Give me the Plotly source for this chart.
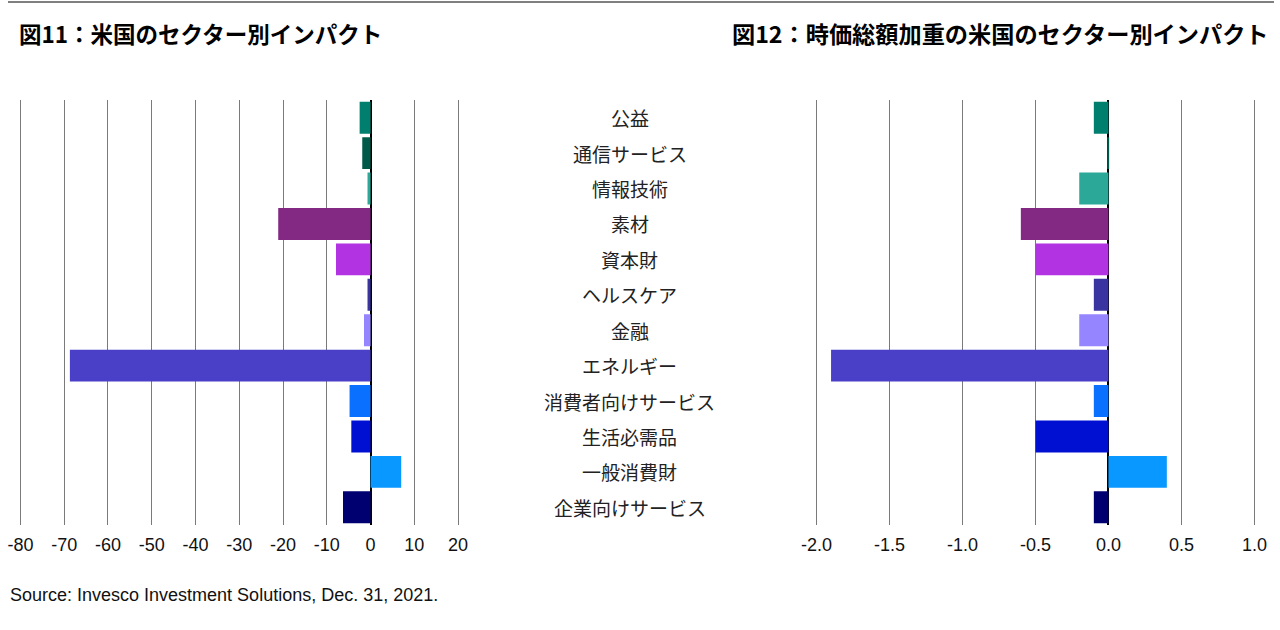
import plotly.graph_objects as go

categories = ["公益", "通信サービス", "情報技術", "素材", "資本財", "ヘルスケア",
              "金融", "エネルギー", "消費者向けサービス", "生活必需品", "一般消費財", "企業向けサービス"]
impact_us = [-2.5, -1.9, -0.7, -21.1, -7.9, -0.7, -1.5, -68.7, -4.8, -4.4, 7.0, -6.3]
impact_capw = [-0.1, -0.005, -0.2, -0.6, -0.5, -0.1, -0.2, -1.9, -0.1, -0.5, 0.4, -0.1]
colors = ["#007f6e", "#005a4a", "#2ba898", "#832883", "#b233e2", "#3a34a0",
          "#9585ff", "#4a40c8", "#0a70ff", "#0010d2", "#0898ff", "#000070"]
left_ticks = [-80, -70, -60, -50, -40, -30, -20, -10, 0, 10, 20]
left_ticktext = ["-80", "-70", "-60", "-50", "-40", "-30", "-20", "-10", "0", "10", "20"]
right_ticks = [-2.0, -1.5, -1.0, -0.5, 0.0, 0.5, 1.0]
right_ticktext = ["-2.0", "-1.5", "-1.0", "-0.5", "0.0", "0.5", "1.0"]

FW, FH = 1280, 630
# measured mapping of figure x to the captured picture: pic_x = 9 + 0.9875 * fig_x
SX, OXP = 0.9875, 9.0


def fx(x):
    return max(0.0, (x - OXP) / SX) / FW


def fy(y):
    return 1 - y / FH


L_px_per = (458 - 21) / 100.0
R_px_per = (1253.3 - 816) / 3.0
l_rng = [-81, 21]
r_rng = [-2.05, 1.05]
l_dom = [fx(371 + l_rng[0] * L_px_per), fx(371 + l_rng[1] * L_px_per)]
r_dom = [fx(1107.7 + r_rng[0] * R_px_per), fx(1107.7 + r_rng[1] * R_px_per)]
y_dom = [fy(525), fy(100)]

fig = go.Figure()
fig.add_trace(go.Bar(x=impact_us, y=categories, orientation="h",
                     marker=dict(color=colors, line=dict(width=0)),
                     xaxis="x", yaxis="y", showlegend=False))
fig.add_trace(go.Bar(x=impact_capw, y=categories, orientation="h",
                     marker=dict(color=colors, line=dict(width=0)),
                     xaxis="x2", yaxis="y2", showlegend=False))

axis_common = dict(showgrid=True, gridcolor="#7a7a7a", gridwidth=1,
                   zeroline=True, zerolinecolor="#000000", zerolinewidth=2,
                   showline=False, ticks="", ticklabelstandoff=7,
                   tickfont=dict(family="Liberation Sans, Arial", size=18, color="#111111"))

fig.update_layout(
    width=FW, height=FH,
    margin=dict(l=0, r=0, t=0, b=0),
    paper_bgcolor="white", plot_bgcolor="white",
    bargap=0.1,
    xaxis=dict(domain=l_dom, range=l_rng, tickmode="array", tickvals=left_ticks,
               ticktext=left_ticktext, anchor="y", **axis_common),
    xaxis2=dict(domain=r_dom, range=r_rng, tickmode="array", tickvals=right_ticks,
                ticktext=right_ticktext, anchor="y2", **axis_common),
    yaxis=dict(domain=y_dom, autorange="reversed", showticklabels=False,
               showgrid=False, zeroline=False, anchor="x"),
    yaxis2=dict(domain=y_dom, autorange="reversed", showticklabels=False,
                showgrid=False, zeroline=False, anchor="x2"),
)

annotations = []
for c in categories:
    annotations.append(dict(x=fx(630), y=c, xref="paper", yref="y", text=c,
                            showarrow=False, xanchor="center", yanchor="middle",
                            font=dict(family="Noto Sans CJK JP", size=19, color="#222222")))
annotations.append(dict(x=fx(18), y=fy(33), xref="paper", yref="paper",
                        text="<b>図11：米国のセクター別インパクト</b>", showarrow=False,
                        xanchor="left", yanchor="middle",
                        font=dict(family="Noto Sans CJK JP", size=22.5, color="#000000")))
annotations.append(dict(x=fx(1270), y=fy(33), xref="paper", yref="paper",
                        text="<b>図12：時価総額加重の米国のセクター別インパクト</b>", showarrow=False,
                        xanchor="right", yanchor="middle",
                        font=dict(family="Noto Sans CJK JP", size=23.2, color="#000000")))
annotations.append(dict(x=fx(8), y=fy(595), xref="paper", yref="paper",
                        text="Source: Invesco Investment Solutions, Dec. 31, 2021.", showarrow=False,
                        xanchor="left", yanchor="middle",
                        font=dict(family="Liberation Sans, Arial", size=18, color="#111111")))
fig.update_layout(annotations=annotations)

fig.add_shape(type="line", xref="paper", yref="paper", x0=0, x1=1,
              y0=fy(2), y1=fy(2),
              line=dict(color="#000000", width=1))

fig.write_html("out.html", config={"displayModeBar": False},
               post_script="document.body.style.margin='0px';document.body.style.overflow='hidden';")
